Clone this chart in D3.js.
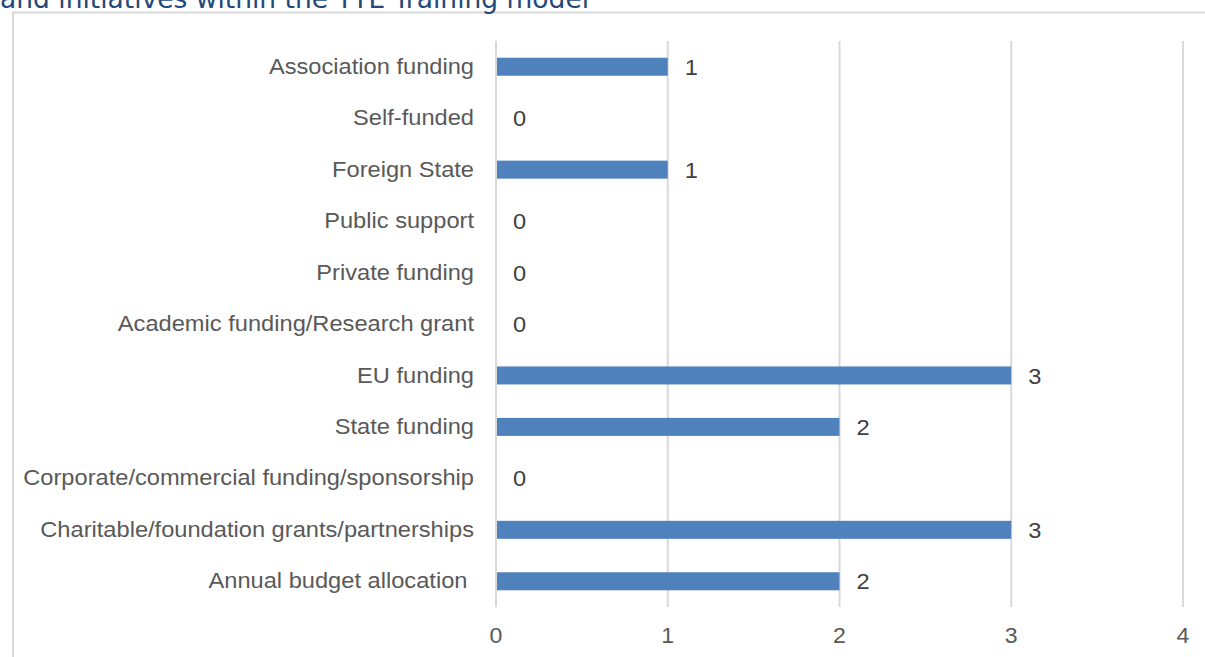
<!DOCTYPE html>
<html>
<head>
<meta charset="utf-8">
<script src="https://cdn.jsdelivr.net/npm/d3@7"></script>
<style>
  html, body { margin: 0; padding: 0; background: #fff; overflow: hidden; }
  svg { display: block; }
</style>
</head>
<body>
<svg id="chart" width="1205" height="657"></svg>
<script>
// Funding sources, listed top to bottom
const categories = [
  "Association funding",
  "Self-funded",
  "Foreign State",
  "Public support",
  "Private funding",
  "Academic funding/Research grant",
  "EU funding",
  "State funding",
  "Corporate/commercial funding/sponsorship",
  "Charitable/foundation grants/partnerships",
  "Annual budget allocation "
];
const counts = [1, 0, 1, 0, 0, 0, 3, 2, 0, 3, 2];
const xTicks = [0, 1, 2, 3, 4];
const titleText = "and initiatives within the TTE Training model";

const svg = d3.select("#chart");
const font = "'Liberation Sans', Arial, sans-serif";
const textColor = "#595959";
const stretch = 1.1; // horizontal text stretch

// Frame around the chart
svg.append("rect")
  .attr("x", 13).attr("y", 12.5)
  .attr("width", 1300).attr("height", 800)
  .attr("fill", "none")
  .attr("stroke", "#d9d9d9")
  .attr("stroke-width", 2);

// Title (partly above the visible area)
svg.append("text")
  .attr("x", 0).attr("y", 7.5)
  .attr("font-family", "'DejaVu Sans', Verdana, sans-serif")
  .attr("font-size", 26.5)
  .attr("fill", "#23497a")
  .text(titleText);

const x = d3.scaleLinear().domain([0, 4]).range([496, 1183]);
const y = d3.scaleBand().domain(categories).range([41, 607]).paddingInner(0.65).paddingOuter(0.325);

// Vertical gridlines
svg.append("g")
  .selectAll("line")
  .data(xTicks)
  .join("line")
  .attr("x1", d => x(d)).attr("x2", d => x(d))
  .attr("y1", 41).attr("y2", 607)
  .attr("stroke", "#d9d9d9")
  .attr("stroke-width", 2);

// Bars
svg.append("g")
  .selectAll("rect")
  .data(categories)
  .join("rect")
  .attr("x", x(0) + 1)
  .attr("y", d => y(d))
  .attr("width", (d, i) => Math.max(0, x(counts[i]) - x(0) - 1))
  .attr("height", y.bandwidth())
  .attr("fill", "#4f81bd");

// Category labels
svg.append("g")
  .selectAll("text")
  .data(categories)
  .join("text")
  .attr("transform", d => `translate(474,${y(d) + y.bandwidth() / 2}) scale(${stretch},1)`)
  .attr("text-anchor", "end")
  .attr("dominant-baseline", "central")
  .attr("font-family", font)
  .attr("font-size", 21.5)
  .attr("fill", textColor)
  .style("white-space", "pre")
  .text(d => d);

// Value labels
svg.append("g")
  .selectAll("text")
  .data(categories)
  .join("text")
  .attr("transform", (d, i) => `translate(${x(counts[i]) + 17},${y(d) + y.bandwidth() / 2 + 1}) scale(${stretch},1)`)
  .attr("dominant-baseline", "central")
  .attr("font-family", font)
  .attr("font-size", 21.5)
  .attr("fill", "#404040")
  .text((d, i) => counts[i]);

// X axis tick labels
svg.append("g")
  .selectAll("text")
  .data(xTicks)
  .join("text")
  .attr("transform", d => `translate(${x(d)},${636}) scale(1.05,1)`)
  .attr("text-anchor", "middle")
  .attr("dominant-baseline", "central")
  .attr("font-family", font)
  .attr("font-size", 22)
  .attr("fill", textColor)
  .text(d => d);
</script>
</body>
</html>
